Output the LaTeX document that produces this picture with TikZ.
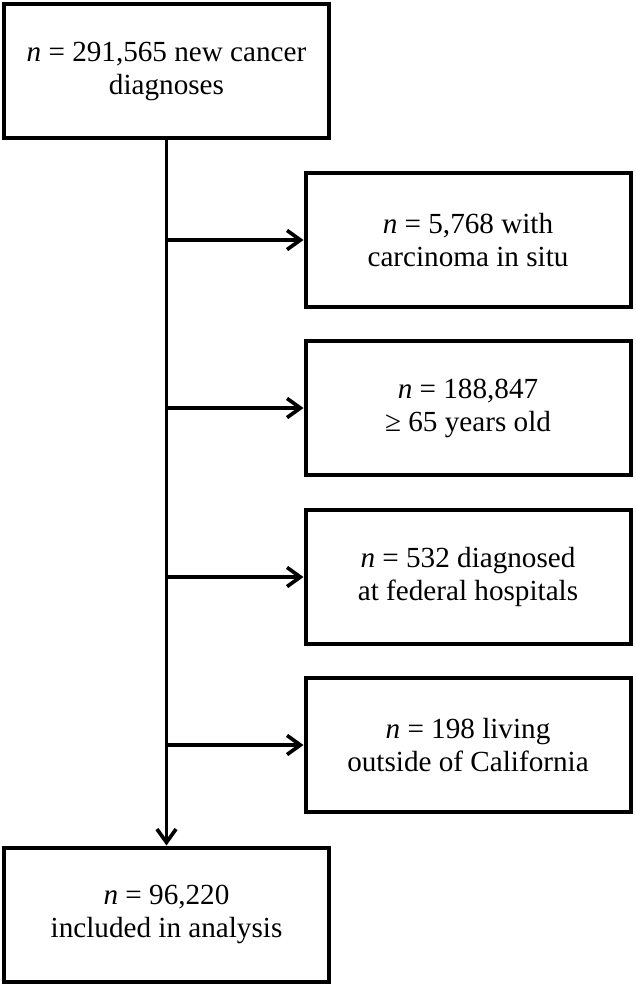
\documentclass[tikz,border=0pt]{standalone}
\usepackage{fontspec}
\setmainfont{Liberation Serif}
\usetikzlibrary{arrows.meta}

\tikzset{
  flowbox/.style={draw, line width=2.4pt, minimum width=195pt, minimum height=80.4pt,
    inner sep=0pt, align=center, font=\fontsize{17.5}{19.8}\selectfont},
  flowarrow/.style={line width=2.2pt, -{Straight Barb[length=8pt,width=11.5pt]}},
}

\begin{document}
\begin{tikzpicture}[x=0.6pt, y=-0.6pt]
  \useasboundingbox (0,0) rectangle (636,986);
  \node[flowbox] (start) at (166.5,71) {\textit{n} = 291,565 new cancer\\diagnoses};
  \node[flowbox] (final) at (166.5,914.5) {\textit{n} = 96,220\\included in analysis};
  \draw[flowarrow] (start) -- (final);
  \foreach \i/\y/\txt in {
      1/240/{\textit{n} = 5,768 with\\carcinoma in situ},
      2/408/{\textit{n} = 188,847\\≥ 65 years old},
      3/577/{\textit{n} = 532 diagnosed\\at federal hospitals},
      4/745/{\textit{n} = 198 living\\outside of California}} {
    \node[flowbox] (excl\i) at (468,\y) {\txt};
    \draw[flowarrow] (start.south |- excl\i.west) -- (excl\i.west);
  }
\end{tikzpicture}
\end{document}
